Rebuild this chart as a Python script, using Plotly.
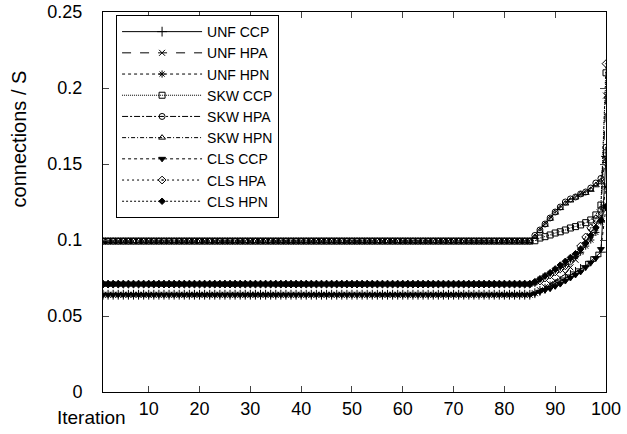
import plotly.graph_objects as go

# Iteration index
iterations = list(range(1, 101))

# Steady-state levels (iterations 1-85) and the rise over iterations 86-100
unf_ccp = [0.0640] * 85 + [0.0650, 0.0665, 0.0680, 0.0695, 0.0710, 0.0730, 0.0750, 0.0770,
                           0.0790, 0.0810, 0.0830, 0.0860, 0.0890, 0.0920, 0.1550]
unf_hpa = [0.0640] * 85 + [0.0650, 0.0670, 0.0690, 0.0710, 0.0730, 0.0750, 0.0780, 0.0820,
                           0.0870, 0.0930, 0.0990, 0.1050, 0.1100, 0.1160, 0.1950]
unf_hpn = [0.0710] * 85 + [0.0720, 0.0740, 0.0760, 0.0780, 0.0800, 0.0820, 0.0840, 0.0870,
                           0.0890, 0.0920, 0.0960, 0.1000, 0.1050, 0.1120, 0.1350]
skw_ccp = [0.0993] * 85 + [0.0995, 0.1013, 0.1022, 0.1033, 0.1046, 0.1054, 0.1066, 0.1079,
                           0.1088, 0.1099, 0.1114, 0.1132, 0.1165, 0.1230, 0.2100]
skw_hpa = [0.0993] * 85 + [0.1030, 0.1066, 0.1105, 0.1145, 0.1184, 0.1217, 0.1250, 0.1270,
                           0.1283, 0.1303, 0.1316, 0.1342, 0.1375, 0.1405, 0.1610]
skw_hpn = [0.0993] * 85 + [0.1020, 0.1060, 0.1100, 0.1140, 0.1180, 0.1210, 0.1240, 0.1260,
                           0.1280, 0.1300, 0.1310, 0.1330, 0.1360, 0.1380, 0.1520]
cls_ccp = [0.0640] * 85 + [0.0648, 0.0660, 0.0670, 0.0680, 0.0695, 0.0710, 0.0730, 0.0750,
                           0.0770, 0.0790, 0.0820, 0.0850, 0.0880, 0.0940, 0.1220]
cls_hpa = [0.0710] * 85 + [0.0720, 0.0730, 0.0750, 0.0770, 0.0790, 0.0810, 0.0830, 0.0860,
                           0.0900, 0.0960, 0.1020, 0.1080, 0.1140, 0.1200, 0.2160]
cls_hpn = [0.0710] * 85 + [0.0725, 0.0745, 0.0765, 0.0785, 0.0810, 0.0835, 0.0860, 0.0885,
                           0.0910, 0.0940, 0.0980, 0.1030, 0.1080, 0.1130, 0.1220]

series_names = ["UNF CCP", "UNF HPA", "UNF HPN", "SKW CCP", "SKW HPA", "SKW HPN",
                "CLS CCP", "CLS HPA", "CLS HPN"]
series_values = [unf_ccp, unf_hpa, unf_hpn, skw_ccp, skw_hpa, skw_hpn,
                 cls_ccp, cls_hpa, cls_hpn]

y_tickvals = [0, 0.05, 0.1, 0.15, 0.2, 0.25]
y_ticktext = ["0", "0.05", "0.1", "0.15", "0.2", "0.25"]
x_tickvals = [10, 20, 30, 40, 50, 60, 70, 80, 90, 100]

# gnuplot-like line dashes and point types
dashes = ["solid", "dash", "dot", "1px,1px", "6px,2px,2px,2px", "4px,2px,1px,2px",
          "3px,3px", "2px,3px", "2px,2px"]
symbols = ["cross-thin-open", "x-thin-open", "asterisk-open", "square-open",
           "circle-open-dot", "triangle-up-open", "triangle-down", "diamond-open-dot",
           "diamond"]
sizes = [7, 6, 6, 6, 6, 6, 6, 6, 5]

FONT = "Liberation Sans, Arial, sans-serif"

fig = go.Figure()
for name, vals, dash, sym, sz in zip(series_names, series_values, dashes, symbols, sizes):
    fig.add_trace(go.Scatter(
        x=iterations, y=vals, name=name, mode="lines+markers",
        line=dict(color="black", width=1, dash=dash),
        marker=dict(symbol=sym, size=sz, color="black",
                    line=dict(color="black", width=1)),
    ))

fig.update_layout(
    width=627, height=434,
    margin=dict(l=103, r=21, t=12, b=42, autoexpand=False),
    paper_bgcolor="white", plot_bgcolor="white",
    font=dict(family=FONT, size=18, color="black"),
    showlegend=True,
    legend=dict(
        x=0.026, y=0.992, xanchor="left", yanchor="top",
        bgcolor="white", bordercolor="black", borderwidth=1,
        font=dict(family=FONT, size=14, color="black"),
        itemwidth=80, tracegroupgap=0,
    ),
    xaxis=dict(
        range=[1, 100], tickvals=x_tickvals, ticks="inside", ticklen=6,
        showline=True, linecolor="black", linewidth=1, mirror="ticks",
        showgrid=False, zeroline=False, tickfont=dict(size=18), automargin=False,
    ),
    yaxis=dict(
        range=[0, 0.25], tickvals=y_tickvals, ticktext=y_ticktext,
        ticks="inside", ticklen=6, ticklabelstandoff=16,
        showline=True, linecolor="black", linewidth=1, mirror="ticks",
        showgrid=False, zeroline=False, tickfont=dict(size=18), automargin=False,
    ),
    annotations=[
        dict(text="Iteration", xref="paper", yref="paper", x=-0.022, y=-0.068,
             xanchor="center", yanchor="middle", showarrow=False,
             font=dict(size=19)),
        dict(text="connections / S", xref="paper", yref="paper", x=-0.168, y=0.666,
             xanchor="center", yanchor="middle", showarrow=False, textangle=-90,
             font=dict(size=20)),
    ],
)

fig.write_html("out.html")
